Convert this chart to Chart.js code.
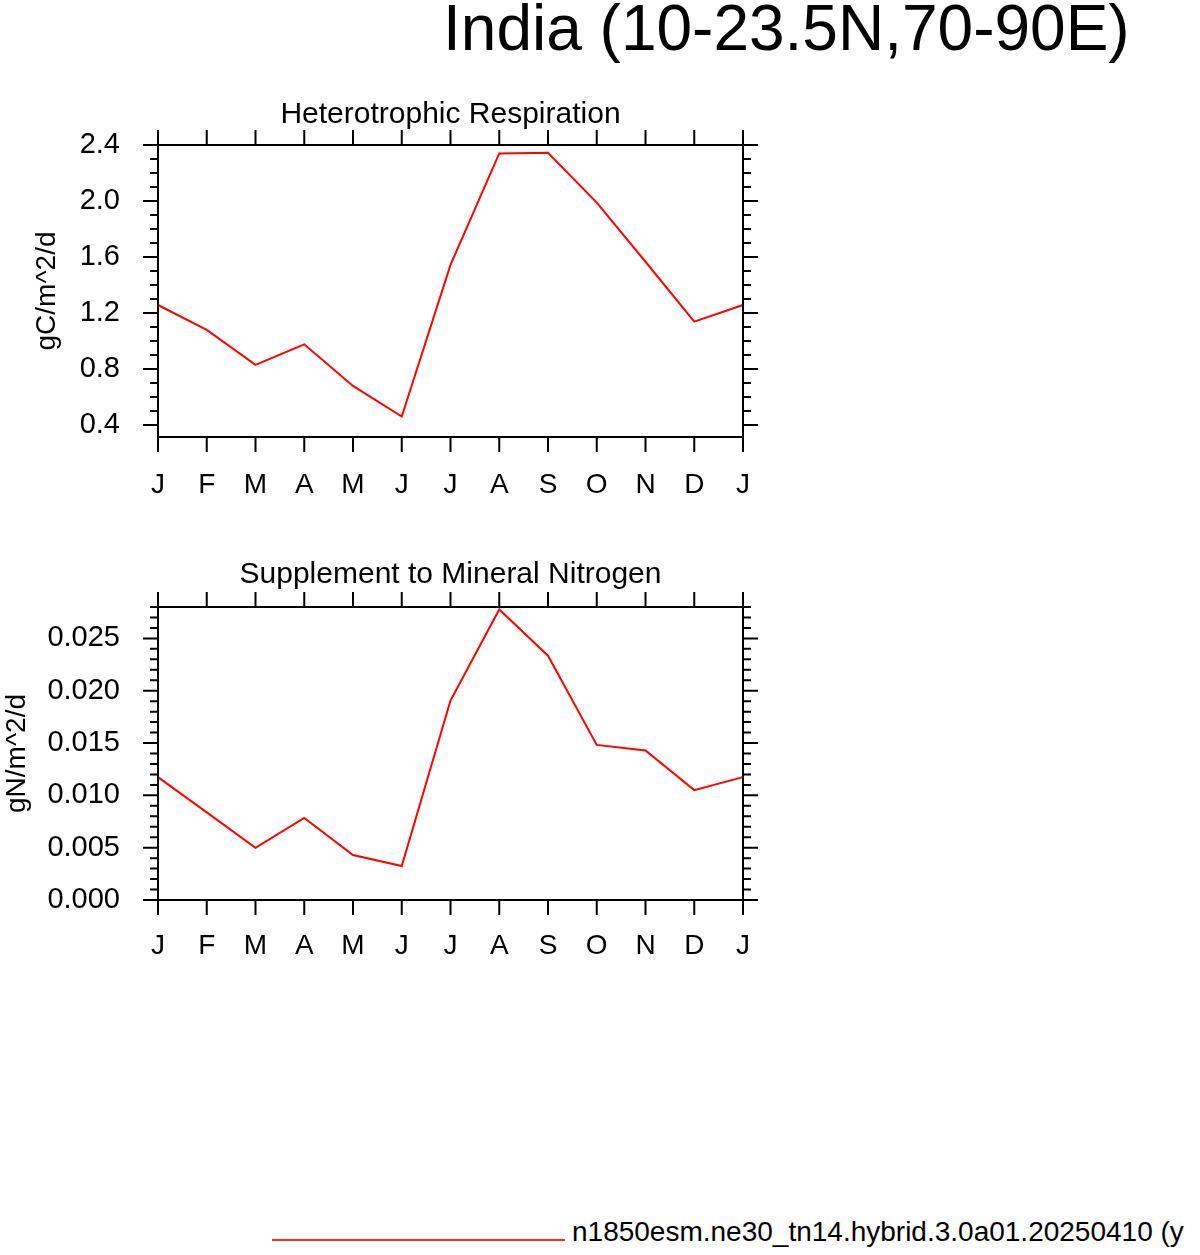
<!DOCTYPE html>
<html>
<head>
<meta charset="utf-8">
<script src="https://cdn.jsdelivr.net/npm/chart.js@4.4.1/dist/chart.umd.min.js"></script>
<style>
  html, body { margin: 0; padding: 0; background: #fff; overflow: hidden; }
  body { width: 1200px; height: 1255px; position: relative; font-family: "Liberation Sans", Arial, Helvetica, sans-serif; }
  canvas { position: absolute; left: 0; }
  #mainTitle { position: absolute; left: 443px; top: -4px; font-size: 64px; line-height: 64px; white-space: nowrap; color: #000; }
  #legend { position: absolute; left: 272px; top: 1218px; height: 28px; white-space: nowrap; }
  #legend .swatch { position: absolute; left: 0; top: 21px; width: 293px; height: 1.5px; background: #ff2a2a; }
  #legend .label { position: absolute; left: 300px; top: 0; font-size: 28px; line-height: 28px; color: #000; }
</style>
</head>
<body>
<div id="mainTitle">India (10-23.5N,70-90E)</div>
<canvas id="hrChart" width="901" height="427" style="top:90px"></canvas>
<canvas id="snChart" width="901" height="428" style="top:552px"></canvas>
<div id="legend"><div class="swatch"></div><div class="label">n1850esm.ne30_tn14.hybrid.3.0a01.20250410 (y</div></div>

<script>
// ==========================================
// DATA
// ==========================================

const monthLabels = ['J', 'F', 'M', 'A', 'M', 'J', 'J', 'A', 'S', 'O', 'N', 'D', 'J'];

// Heterotrophic Respiration (gC/m^2/d)
const hrValues = [1.257, 1.079, 0.829, 0.976, 0.679, 0.460, 1.543, 2.340, 2.345, 1.988, 1.566, 1.138, 1.257];
const hrTicks = [0.4, 0.8, 1.2, 1.6, 2.0, 2.4];
const hrRange = [0.314, 2.4];

// Supplement to Mineral Nitrogen (gN/m^2/d)
const snValues = [0.01174, 0.00837, 0.00499, 0.00785, 0.00430, 0.00324, 0.01906, 0.02777, 0.02335, 0.01482, 0.01428, 0.01050, 0.01174];
const snTicks = [0.000, 0.005, 0.010, 0.015, 0.020, 0.025];
const snRange = [0, 0.028];

const FONT = '"Liberation Sans", Arial, Helvetica, sans-serif';
Chart.defaults.color = '#000';
Chart.defaults.font.family = FONT;

// NCL-style frame: box, outward major ticks on all sides, minor ticks on y
const nclFrame = {
    id: 'nclFrame',
    afterDraw(chart, args, opts) {
        const { ctx, chartArea: a, scales: { x, y } } = chart;
        ctx.save();
        ctx.strokeStyle = '#000';
        ctx.lineWidth = 2;
        ctx.strokeRect(a.left, a.top, a.right - a.left, a.bottom - a.top);
        ctx.beginPath();
        x.ticks.forEach((t, i) => {
            const px = x.getPixelForTick(i);
            ctx.moveTo(px, a.bottom); ctx.lineTo(px, a.bottom + 15);
            ctx.moveTo(px, a.top); ctx.lineTo(px, a.top - 15);
        });
        y.ticks.forEach(t => {
            const py = y.getPixelForValue(t.value);
            ctx.moveTo(a.left - 15, py); ctx.lineTo(a.left, py);
            ctx.moveTo(a.right, py); ctx.lineTo(a.right + 15, py);
        });
        // minor ticks
        const step = opts.minorStep;
        const kStart = Math.ceil(y.min / step - 1e-6);
        const kEnd = Math.floor(y.max / step + 1e-6);
        for (let k = kStart; k <= kEnd; k++) {
            if (k % opts.minorPerMajor === 0) continue;
            const py = y.getPixelForValue(k * step);
            ctx.moveTo(a.left - 8, py); ctx.lineTo(a.left, py);
            ctx.moveTo(a.right, py); ctx.lineTo(a.right + 8, py);
        }
        ctx.stroke();
        ctx.restore();
    }
};

function makePanel(canvasId, cfg) {
    const ctx = document.getElementById(canvasId);
    return new Chart(ctx, {
        type: 'line',
        data: {
            labels: monthLabels,
            datasets: [{
                data: cfg.values,
                borderColor: '#ff0000',
                borderWidth: 2,
                pointRadius: 0,
                tension: 0,
                fill: false
            }]
        },
        options: {
            responsive: false,
            animation: false,
            devicePixelRatio: 1,
            layout: { padding: 0 },
            plugins: {
                legend: { display: false },
                tooltip: { enabled: false },
                title: {
                    display: true,
                    text: cfg.title,
                    color: '#000',
                    font: { size: 30, weight: 'normal', lineHeight: 1 },
                    padding: { top: cfg.titlePad[0], bottom: cfg.titlePad[1] }
                },
                nclFrame: { minorStep: cfg.minorStep, minorPerMajor: cfg.minorPerMajor }
            },
            scales: {
                x: {
                    type: 'category',
                    offset: false,
                    grid: { display: false, drawTicks: false },
                    border: { display: false },
                    ticks: { font: { size: 28, lineHeight: 1 }, padding: cfg.xPad, maxRotation: 0, autoSkip: false },
                    afterFit: s => { s.height = 80; }
                },
                y: {
                    min: cfg.range[0],
                    max: cfg.range[1],
                    grid: { display: false, drawTicks: false },
                    border: { display: false },
                    ticks: {
                        font: { size: 29, lineHeight: 1 },
                        padding: 38,
                        callback: v => v.toFixed(cfg.decimals)
                    },
                    afterBuildTicks: s => { s.ticks = cfg.ticks.map(v => ({ value: v })); },
                    afterFit: s => { s.width = 158; },
                    title: {
                        display: true,
                        text: cfg.yTitle,
                        font: { size: 28, lineHeight: 1 },
                        padding: { top: cfg.yTitlePad, bottom: 0 }
                    }
                },
                // empty right axis, keeps the plot box where the reference has it
                yRight: {
                    position: 'right',
                    min: cfg.range[0],
                    max: cfg.range[1],
                    grid: { display: false, drawTicks: false },
                    border: { display: false },
                    ticks: { display: false },
                    afterFit: s => { s.width = 158; }
                }
            }
        },
        plugins: [nclFrame]
    });
}

document.addEventListener('DOMContentLoaded', function() {
    makePanel('hrChart', {
        title: 'Heterotrophic Respiration',
        values: hrValues,
        ticks: hrTicks,
        range: hrRange,
        decimals: 1,
        minorStep: 0.1,
        minorPerMajor: 4,
        yTitle: 'gC/m^2/d',
        yTitlePad: 33,
        titlePad: [10, 15],
        xPad: 34
    });
    makePanel('snChart', {
        title: 'Supplement to Mineral Nitrogen',
        values: snValues,
        ticks: snTicks,
        range: snRange,
        decimals: 3,
        minorStep: 0.001,
        minorPerMajor: 5,
        yTitle: 'gN/m^2/d',
        yTitlePad: 3,
        titlePad: [8, 17],
        xPad: 32
    });
});
</script>
</body>
</html>
